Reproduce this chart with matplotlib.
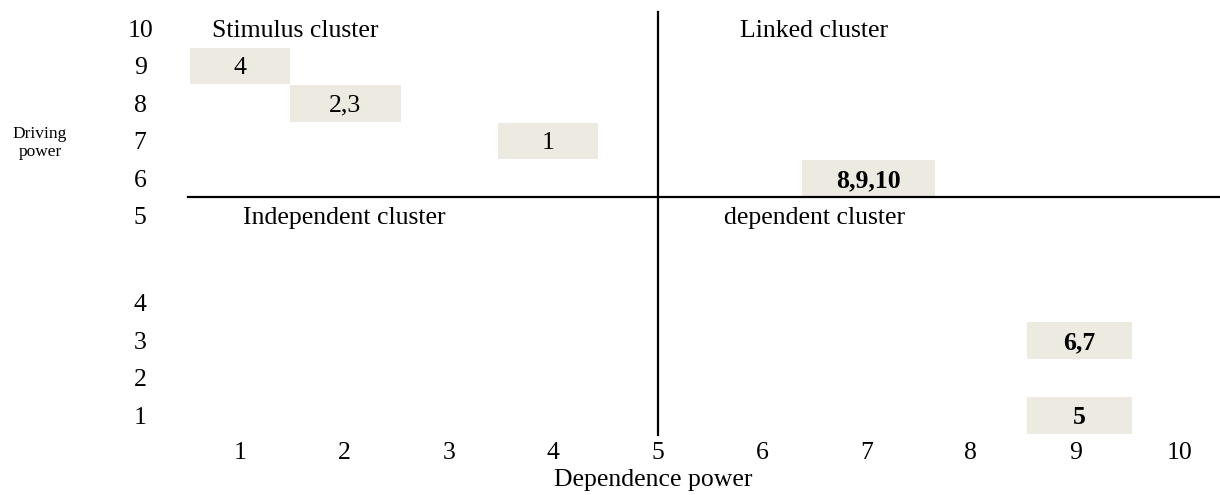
import numpy as np
import matplotlib
matplotlib.use("Agg")
import matplotlib.pyplot as plt
from matplotlib.patches import Rectangle

# ---- data ----
x_ticks = [1, 2, 3, 4, 5, 6, 7, 8, 9, 10]
y_ticks = [1, 2, 3, 4, 5, 6, 7, 8, 9, 10]
box_labels = ["4", "2,3", "1", "8,9,10", "6,7", "5"]
box_dependence = [1, 2, 4, 7, 9, 9]
box_driving = [9, 8, 7, 6, 3, 1]
box_bold = [False, False, False, True, True, True]
cluster_names = ["Stimulus cluster", "Linked cluster", "Independent cluster", "dependent cluster"]

# ---- style ----
box_widths = [0.95, 1.07, 0.95, 1.27, 1.0, 1.0]
box_xshift = [0.0, 0.01, -0.05, 0.02, 0.04, 0.04]
cluster_pos = [(1.53, 10), (6.5, 10), (2.0, 5), (6.5, 5)]
box_color = "#ECEAE1"
FS = 18.5

plt.rcParams['font.family'] = ['Liberation Serif', 'DejaVu Serif']

GAP = 1.32
def fwd(y):
    y = np.asarray(y, dtype=float)
    return y + GAP * np.clip(y - 4, 0, 1)
def inv(z):
    z = np.asarray(z, dtype=float)
    return np.where(z <= 4, z, np.where(z <= 5 + GAP, 4 + (z - 4) / (1 + GAP), z - GAP))

fig = plt.figure(figsize=(12.2, 4.95), dpi=100)
ax = fig.add_axes([188/1220, 1 - 435/495, 1 - 188/1220, (435 - 12)/495])
ax.set_yscale('function', functions=(fwd, inv))
ax.set_xlim(0.502, 10.387)
ax.set_ylim(0.467, 10.43)

for s in ax.spines.values():
    s.set_visible(False)

ax.set_xticks(x_ticks)
ax.set_xticklabels([str(v) for v in x_ticks], fontsize=FS)
ax.set_yticks(y_ticks)
ax.set_yticklabels([str(v) for v in y_ticks], fontsize=FS)
ax.tick_params(axis='x', length=0, pad=5)
ax.tick_params(axis='y', length=0, pad=34.5)
for lab in ax.get_yticklabels():
    lab.set_horizontalalignment('center')
ax.yaxis.set_minor_locator(matplotlib.ticker.NullLocator())

# boxes
for lab, xv, yv, b, w, dx in zip(box_labels, box_dependence, box_driving, box_bold, box_widths, box_xshift):
    ax.add_patch(Rectangle((xv + dx - w/2, yv - 0.5), w, 0.98, facecolor=box_color,
                           edgecolor='none', zorder=1))
    ax.text(xv + dx, yv, lab, ha='center', va='center_baseline', fontsize=FS,
            fontweight='bold' if b else 'normal', zorder=3)

# quadrant lines
ax.plot([5, 5], [0.467, 10.43], color='black', lw=1.6, zorder=2, clip_on=False)
ax.plot([0.5, 10.387], [5.5, 5.5], color='black', lw=1.6, zorder=2, clip_on=False)

for name, (cx, cy) in zip(cluster_names, cluster_pos):
    ax.text(cx, cy, name, ha='center', va='center_baseline', fontsize=FS, zorder=3)

fig.text(40/1220, 1 - 143/495, "Driving\npower", ha='center', va='center', fontsize=12.5,
         linespacing=1.15)
fig.text(653/1220, 1 - 480/495, "Dependence power", ha='center', va='center', fontsize=FS)

fig.savefig("out.png", dpi=100)
